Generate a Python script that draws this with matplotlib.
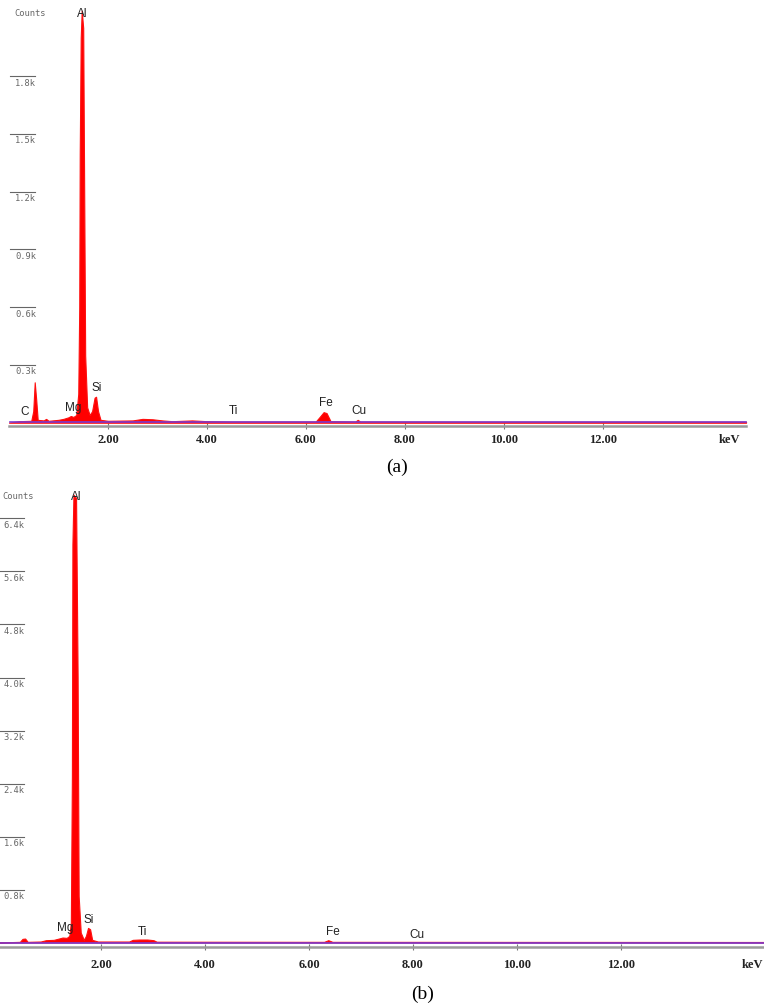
import matplotlib
matplotlib.use('Agg')
import matplotlib.pyplot as plt
import numpy as np

# panel (a) spectrum (keV, counts)
energy_a = [0.00, 0.20, 0.45, 0.49, 0.52, 0.55, 0.58, 0.70, 0.75, 0.80, 1.00, 1.10,
            1.20, 1.25, 1.30, 1.36, 1.40, 1.42, 1.43, 1.45, 1.47, 1.50, 1.52, 1.54,
            1.58, 1.63, 1.68, 1.73, 1.76, 1.80, 1.85, 2.00, 2.50, 2.70, 2.90, 3.10,
            3.30, 3.70, 4.00, 4.50, 5.00, 6.20, 6.28, 6.36, 6.42, 6.50, 7.00, 7.05,
            7.10, 9.00, 14.90]
counts_a = [0, 8, 10, 60, 210, 120, 15, 12, 20, 10, 15, 20,
            28, 35, 30, 40, 150, 600, 1400, 2000, 2140, 2050, 1200, 350,
            80, 40, 60, 130, 135, 60, 15, 10, 12, 20, 18, 12,
            8, 12, 8, 6, 6, 6, 30, 55, 50, 8, 6, 15,
            6, 5, 5]

# panel (b) spectrum
energy_b = [0.00, 0.45, 0.50, 0.55, 0.60, 0.85, 0.95, 1.10, 1.20, 1.27, 1.35, 1.40,
            1.43, 1.45, 1.46, 1.48, 1.53, 1.56, 1.58, 1.62, 1.68, 1.72, 1.76, 1.80,
            1.84, 1.95, 2.55, 2.62, 2.75, 2.90, 3.02, 3.08, 6.30, 6.38, 6.46, 14.80]
counts_b = [0, 10, 55, 60, 10, 15, 35, 40, 60, 75, 70, 100,
            300, 2500, 6000, 6750, 6700, 4000, 700, 150, 40, 100, 220, 200,
            40, 15, 15, 40, 45, 45, 35, 12, 10, 35, 10, 8]

xticks = [2, 4, 6, 8, 10, 12]
xticklabels = ['2.00', '4.00', '6.00', '8.00', '10.00', '12.00']
yticks_a = [300, 600, 900, 1200, 1500, 1800]
ylabels_a = ['0.3k', '0.6k', '0.9k', '1.2k', '1.5k', '1.8k']
yticks_b = [800, 1600, 2400, 3200, 4000, 4800, 5600, 6400]
ylabels_b = ['0.8k', '1.6k', '2.4k', '3.2k', '4.0k', '4.8k', '5.6k', '6.4k']

elements = ['C', 'Mg', 'Si', 'Ti', 'Fe', 'Cu', 'Al']
elem_pos_a = [(0.32, 57), (1.29, 78), (1.78, 182), (4.53, 62), (6.40, 104), (7.07, 62), (1.49, 2123)]
elements_b = ['Mg', 'Si', 'Ti', 'Fe', 'Cu', 'Al']
elem_pos_b = [(1.31, 226), (1.77, 347), (2.79, 166), (6.46, 166), (8.08, 121), (1.52, 6721)]

W, H = 764, 1006
fig = plt.figure(figsize=(W / 100, H / 100), dpi=100)


def panel(rect, xlim, ylim, energy, counts, yt, yl, tick_x0, tick_x1, ytxt_x,
          names, pos, counts_xy, kev_x, pad, end_x):
    ax = fig.add_axes(rect)
    ax.set_xlim(*xlim)
    ax.set_ylim(*ylim)
    ax.fill_between(energy, 0, counts, color='#ff0000', lw=0.8, ec='#ff1010', zorder=2)
    ax.plot([0.02, end_x], [4, 4], color='#7a3cd0', lw=1.2, zorder=3)
    for s in ['top', 'left', 'right']:
        ax.spines[s].set_visible(False)
    ax.spines['bottom'].set_color('#9a9a9a')
    ax.spines['bottom'].set_linewidth(1.8)
    ax.spines['bottom'].set_bounds(0, end_x)
    ax.set_yticks([])
    ax.set_xticks(xticks)
    ax.set_xticklabels(xticklabels, fontfamily='Liberation Serif', fontweight='bold',
                       fontsize=9, color='#222222')
    ax.tick_params(axis='x', direction='inout', length=4, color='#777777', pad=pad)
    ax.annotate('keV', xy=(kev_x, 0), xycoords=('data', 'axes fraction'),
                xytext=(0, -(pad + 2)), textcoords='offset points', ha='center', va='top',
                fontfamily='Liberation Serif', fontweight='bold', fontsize=9, color='#222222')
    # counts scale: short overline with label below
    for v, lab in zip(yt, yl):
        ax.plot([tick_x0, tick_x1], [v, v], color='#666666', lw=0.8)
        ax.annotate(lab, xy=(ytxt_x, v), xytext=(0, -5), textcoords='offset points',
                    ha='center', va='center', fontfamily='DejaVu Sans Mono',
                    fontsize=6.3, color='#666666')
    ax.text(counts_xy[0], counts_xy[1], 'Counts', ha='center', va='center',
            fontfamily='DejaVu Sans Mono', fontsize=6.3, color='#666666')
    for n, (x, y) in zip(names, pos):
        ax.text(x, y, n, ha='center', va='center', fontfamily='Liberation Sans',
                fontsize=8.5, color='#222222', zorder=4)
    return ax


# panel (a): 49.5 px per keV, 0 keV at x=9 px; axis line at y=426 px
panel([9 / W, 580 / H, 742 / W, 426 / H], (0, 15), (-17, 2195), energy_a, counts_a,
      yticks_a, ylabels_a, 0.02, 0.53, 0.34, elements, elem_pos_a, (0.42, 2123),
      14.57, 3.5, 14.9)

# panel (b): 52 px per keV, 0 keV at x=-3 px; axis line at y=947 px
panel([-3 / W, 59 / H, 769.6 / W, 465 / H], (0, 14.8), (-60, 6947), energy_b, counts_b,
      yticks_b, ylabels_b, 0.06, 0.52, 0.33, elements_b, elem_pos_b, (0.40, 6721),
      14.52, 6.5, 14.8)

fig.text(397 / W, 1 - 467 / H, '(a)', ha='center', va='center',
         fontfamily='Liberation Serif', fontsize=14)
fig.text(423 / W, 1 - 994 / H, '(b)', ha='center', va='center',
         fontfamily='Liberation Serif', fontsize=14)

fig.savefig('out.png', dpi=100)
